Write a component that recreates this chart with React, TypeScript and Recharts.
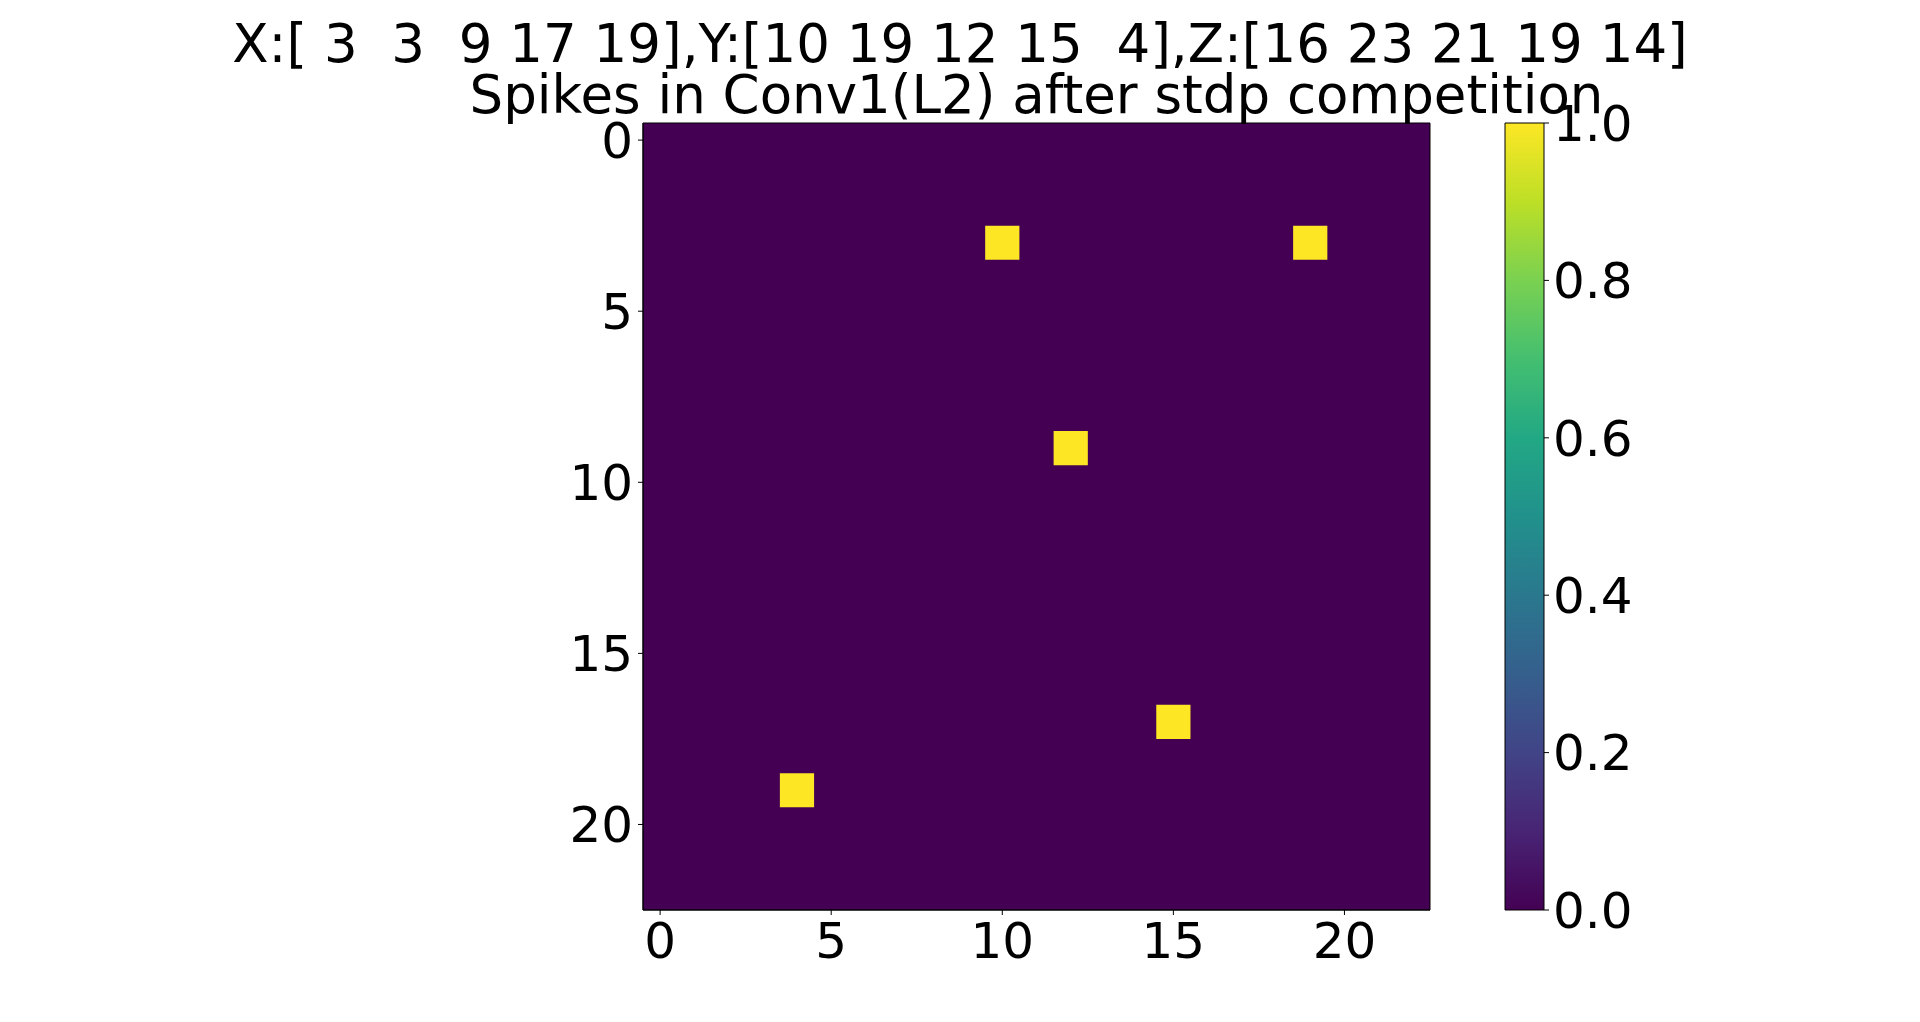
import { ScatterChart, BarChart, Bar, XAxis, YAxis, ReferenceArea } from "recharts";

// spike locations (row = X, col = Y) and feature map index Z
const spikeRows = [3, 3, 9, 17, 19];
const spikeCols = [10, 19, 12, 15, 4];
const spikeZ = [16, 23, 21, 19, 14];

const gridSize = 23;
const axisTicks = [0, 5, 10, 15, 20];
const colorbarTicks = [0, 0.2, 0.4, 0.6, 0.8, 1.0];
const colorbarData = [{ name: "cb", value: 1 }];

const viridisStops = [
  "#440154", "#482475", "#414487", "#355f8d", "#2a788e", "#21918c",
  "#22a884", "#44bf70", "#7ad151", "#bddf26", "#fde725",
];

const FONT = "DejaVu Sans";
const fmtArr = (arr: number[]) =>
  "[" + arr.map((v) => String(v).padStart(2, " ")).join(" ") + "]";

const suptitle = `X:${fmtArr(spikeRows)},Y:${fmtArr(spikeCols)},Z:${fmtArr(spikeZ)}`;
const title = "Spikes in Conv1(L2) after stdp competition";

const tickStyle = { fontFamily: FONT, fontSize: 50, fill: "#000" };

export default function App() {
  const lo = -0.5;
  const hi = gridSize - 0.5;
  return (
    <div style={{ position: "absolute", left: 0, top: 0, width: 1920, height: 1022, background: "#fff" }}>
      {/* main image */}
      <div style={{ position: "absolute", left: 0, top: 0 }}>
        <ScatterChart width={1920} height={1022} margin={{ top: 123, right: 490, bottom: 32, left: 543 }}>
          <XAxis
            type="number"
            dataKey="x"
            domain={[lo, hi]}
            ticks={axisTicks}
            allowDataOverflow
            height={80}
            tick={tickStyle}
            tickSize={5}
            tickMargin={7}
            tickLine={{ stroke: "#000" }}
            axisLine={{ stroke: "#000" }}
          />
          <YAxis
            type="number"
            dataKey="y"
            domain={[lo, hi]}
            reversed
            ticks={axisTicks}
            allowDataOverflow
            width={100}
            tick={tickStyle}
            tickSize={5}
            tickMargin={5}
            tickLine={{ stroke: "#000" }}
            axisLine={{ stroke: "#000" }}
          />
          <ReferenceArea x1={lo} x2={hi} y1={lo} y2={hi} fill="#440154" fillOpacity={1} stroke="none" />
          {spikeRows.map((r, i) => (
            <ReferenceArea
              key={i}
              x1={spikeCols[i] - 0.5}
              x2={spikeCols[i] + 0.5}
              y1={r - 0.5}
              y2={r + 0.5}
              fill="#fde725"
              fillOpacity={1}
              stroke="none"
            />
          ))}
          <ReferenceArea x1={lo} x2={hi} y1={lo} y2={hi} fill="none" stroke="#000" strokeWidth={1} />
        </ScatterChart>
      </div>

      {/* colorbar */}
      <div style={{ position: "absolute", left: 1405, top: 0 }}>
        <BarChart
          width={400}
          height={1022}
          data={colorbarData}
          margin={{ top: 123, right: 111, bottom: 112, left: 100 }}
          barCategoryGap={0}
        >
          <defs>
            <linearGradient id="viridis" x1="0" y1="1" x2="0" y2="0">
              {viridisStops.map((c, i) => (
                <stop key={i} offset={i / (viridisStops.length - 1)} stopColor={c} />
              ))}
            </linearGradient>
          </defs>
          <XAxis dataKey="name" hide />
          <YAxis
            type="number"
            orientation="right"
            domain={[0, 1]}
            ticks={colorbarTicks}
            tickFormatter={(v: number) => v.toFixed(1)}
            width={150}
            tick={{ ...tickStyle, textAnchor: "start" }}
            tickSize={5}
            tickMargin={4}
            tickLine={{ stroke: "#000" }}
            axisLine={false}
          />
          <Bar dataKey="value" fill="url(#viridis)" stroke="#000" strokeWidth={1} isAnimationActive={false} />
        </BarChart>
      </div>

      {/* titles */}
      <svg width={1920} height={1022} style={{ position: "absolute", left: 0, top: 0, pointerEvents: "none" }}>
        <text x={960} y={62} textAnchor="middle" fontFamily={FONT} fontSize={53} fill="#000" style={{ whiteSpace: "pre" }}>
          {suptitle}
        </text>
        <text x={1036.5} y={113} textAnchor="middle" fontFamily={FONT} fontSize={53} fill="#000">
          {title}
        </text>
      </svg>
    </div>
  );
}
